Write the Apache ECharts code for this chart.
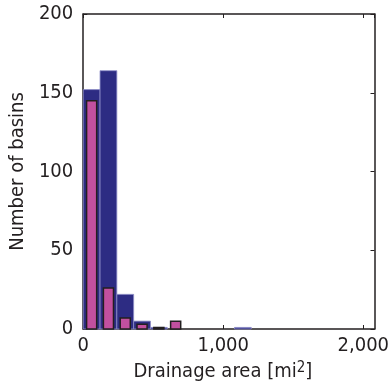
<!DOCTYPE html>
<html>
<head>
<meta charset="utf-8">
<script src="https://cdn.jsdelivr.net/npm/echarts@6/dist/echarts.min.js"></script>
<style>
  html, body { margin: 0; padding: 0; background: #fff; }
  #chart { width: 392px; height: 390px; }
</style>
</head>
<body>
<div id="chart"></div>
<script>
// Histogram of basin drainage areas (bin centres in mi², counts per bin)
const binWidth = 120;
const allBinCenters = [60, 180, 300, 420, 540, 1140];
const allCounts = [152, 164, 22, 5, 1, 1];
const subsetBinCenters = [60, 180, 300, 420, 540, 660];
const subsetCounts = [145, 26, 7, 3, 1, 5];
const xTicks = [0, 1000, 2000];
const yTicks = [0, 50, 100, 150, 200];

const FONT = "'DejaVu Sans Condensed', 'Liberation Sans Narrow', 'Roboto', sans-serif";
const TEXT = '#231f20';

function barRenderer(widthFrac, fill, stroke, lw) {
  return function (params, api) {
    const c = api.value(0), v = api.value(1);
    const half = binWidth * widthFrac / 2;
    const p0 = api.coord([c - half, 0]);
    const p1 = api.coord([c + half, v]);
    return {
      type: 'rect',
      shape: { x: p0[0], y: p1[1], width: p1[0] - p0[0], height: p0[1] - p1[1] },
      style: { fill: fill, stroke: stroke, lineWidth: lw }
    };
  };
}

const chart = echarts.init(document.getElementById('chart'), null, { renderer: 'canvas' });

const axisLineStyle = { color: TEXT, width: 1.5 };
const fmtX = v => xTicks.indexOf(v) >= 0 ? v.toLocaleString('en-US') : '';
const fmtY = v => yTicks.indexOf(v) >= 0 ? String(v) : '';

chart.setOption({
  animation: false,
  grid: { left: 82, right: 15, top: 14, bottom: 61 },
  xAxis: [
    {
      type: 'value', min: 0, max: 2080, interval: 1000, position: 'bottom',
      axisLine: { show: true, onZero: false, lineStyle: axisLineStyle },
      axisTick: { show: true, inside: true, length: 4, lineStyle: { color: TEXT } },
      splitLine: { show: false },
      axisLabel: { formatter: fmtX, fontFamily: FONT, fontSize: 20, color: TEXT, margin: 7, showMaxLabel: false },
      name: '{a|Drainage area [mi}{s|2}{a|]}',
      nameLocation: 'middle', nameGap: 29,
      nameTextStyle: {
        padding: [0, 12, 0, 0],
        rich: {
          a: { fontFamily: FONT, fontSize: 20, color: TEXT },
          s: { fontFamily: FONT, fontSize: 15, color: TEXT, verticalAlign: 'top', padding: [0, 0, 7, 0] }
        }
      }
    },
    {
      type: 'value', min: 0, max: 2080, interval: 1000, position: 'top',
      axisLine: { show: true, onZero: false, lineStyle: axisLineStyle },
      axisTick: { show: true, inside: true, length: 4, lineStyle: { color: TEXT } },
      splitLine: { show: false },
      axisLabel: { show: false }
    }
  ],
  yAxis: [
    {
      type: 'value', min: 0, max: 200, interval: 50, position: 'left',
      axisLine: { show: true, onZero: false, lineStyle: axisLineStyle },
      axisTick: { show: true, inside: true, length: 4, lineStyle: { color: TEXT } },
      splitLine: { show: false },
      axisLabel: { formatter: fmtY, fontFamily: FONT, fontSize: 20, color: TEXT, margin: 10 },
      name: 'Number of basins', nameLocation: 'middle', nameGap: 36,
      nameTextStyle: { fontFamily: FONT, fontSize: 20, color: TEXT }
    },
    {
      type: 'value', min: 0, max: 200, interval: 50, position: 'right',
      axisLine: { show: true, onZero: false, lineStyle: axisLineStyle },
      axisTick: { show: true, inside: true, length: 4, lineStyle: { color: TEXT } },
      splitLine: { show: false },
      axisLabel: { show: false }
    }
  ],
  series: [
    {
      type: 'custom', xAxisIndex: 0, yAxisIndex: 0,
      renderItem: barRenderer(1.0, '#2d2c83', '#8e8ec8', 0.8),
      data: allBinCenters.map((c, i) => [c, allCounts[i]]),
      z: 1
    },
    {
      type: 'custom', xAxisIndex: 0, yAxisIndex: 0,
      renderItem: barRenderer(0.6, '#c2509f', '#231f20', 1.5),
      data: subsetBinCenters.map((c, i) => [c, subsetCounts[i]]),
      z: 2
    }
  ]
});
</script>
</body>
</html>
